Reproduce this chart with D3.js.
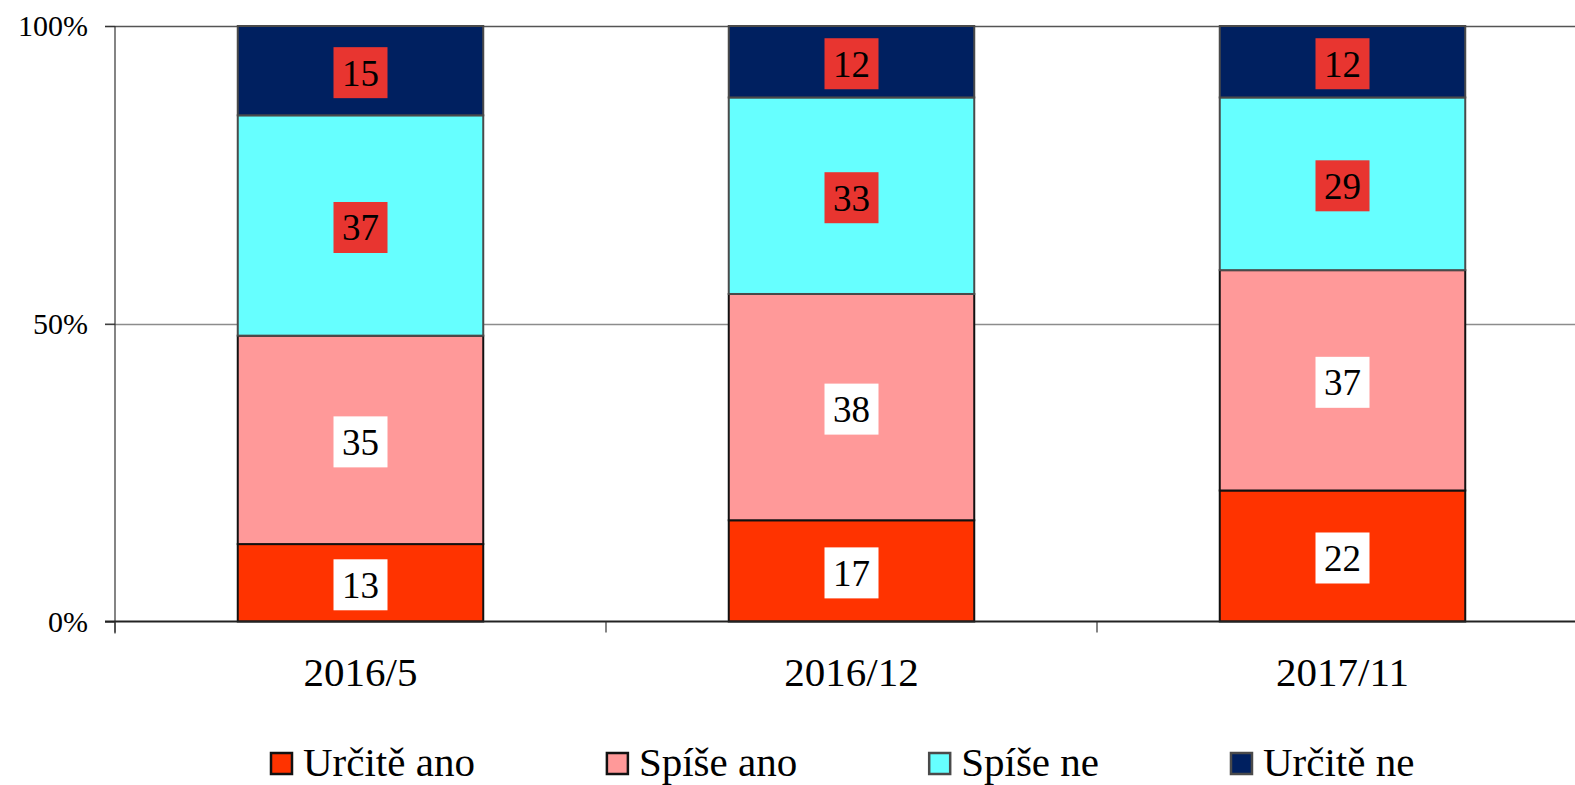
<!DOCTYPE html>
<html>
<head>
<meta charset="utf-8">
<script src="https://cdn.jsdelivr.net/npm/d3@7"></script>
<style>
  body { margin: 0; background: #fff; }
  svg { display: block; }
  svg text { font-family: "Liberation Serif", "Times New Roman", "DejaVu Serif", serif !important; }
</style>
</head>
<body>
<div id="chart"></div>
<script>
// Data
const categories = ["2016/5", "2016/12", "2017/11"];
const seriesNames = ["Určitě ano", "Spíše ano", "Spíše ne", "Určitě ne"];
const urciteAno = [13, 17, 22];
const spiseAno = [35, 38, 37];
const spiseNe = [37, 33, 29];
const urciteNe = [15, 12, 12];
const yTicks = [0, 50, 100];

const seriesValues = [urciteAno, spiseAno, spiseNe, urciteNe];
const colors = ["#ff3300", "#ff9999", "#66ffff", "#002060"];
const strokes = ["#111111", "#111111", "#4a4a4a", "#4a4a4a"];
const labelBg = ["#ffffff", "#ffffff", "#e83530", "#e83530"];
const serif = "Liberation Serif, Times New Roman, serif";

// Build a table the stack layout can use
const table = categories.map((c, i) => {
  let row = {cat: c};
  seriesNames.forEach((s, j) => { row[s] = seriesValues[j][i]; });
  return row;
});

const W = 1575, H = 785;
let margin = {top: 26, left: 115, bottom: 164};
let plotBottom = H - margin.bottom + 0.5;

let svg = d3.select("#chart").append("svg")
  .attr("width", W)
  .attr("height", H)
  .attr("font-family", serif);

// Scales
let x = d3.scaleBand()
  .domain(categories)
  .range([margin.left, margin.left + 1473])
  .paddingInner(0.5)
  .paddingOuter(0.25);
let y = d3.scaleLinear().domain([0, 100]).range([plotBottom, margin.top]);

// Gridlines
svg.append("g")
  .selectAll("line")
  .data(yTicks.filter(d => d > 0))
  .enter().append("line")
  .attr("x1", margin.left - 10)
  .attr("x2", W)
  .attr("y1", d => Math.round(y(d)) + 0.5)
  .attr("y2", d => Math.round(y(d)) + 0.5)
  .attr("stroke", d => d === 100 ? "#555" : "#8c8c8c")
  .attr("stroke-width", 1.5);

// Y axis
let yAxis = svg.append("g")
  .attr("transform", "translate(" + margin.left + ",0)")
  .call(d3.axisLeft(y).tickValues(yTicks).tickFormat(d => d + "%").tickSize(10).tickPadding(17))
  .attr("font-family", serif);
yAxis.select(".domain").remove();
yAxis.selectAll("line").attr("stroke", "#333").attr("stroke-width", 1.2);
yAxis.selectAll("text")
  .attr("font-size", 30)
  .attr("fill", "#000");
yAxis.append("line")
  .attr("x1", 0).attr("x2", 0)
  .attr("y1", margin.top).attr("y2", plotBottom + 12)
  .attr("stroke", "#333").attr("stroke-width", 1.2);

// Stacked bars
let stacked = d3.stack().keys(seriesNames)(table);

let layers = svg.append("g")
  .selectAll("g")
  .data(stacked)
  .enter().append("g");

layers.selectAll("rect")
  .data(d => d.map(p => ({p: p, k: d.key, i: d.index})))
  .enter().append("rect")
  .attr("x", d => x(d.p.data.cat))
  .attr("width", x.bandwidth())
  .attr("y", d => y(d.p[1]))
  .attr("height", d => y(d.p[0]) - y(d.p[1]))
  .attr("fill", d => colors[d.i])
  .attr("stroke", d => strokes[d.i])
  .attr("stroke-width", 2);

// Category baseline (drawn over the bars) and bottom ticks
let xAxis = svg.append("g")
  .attr("transform", "translate(0," + plotBottom + ")");
xAxis.append("line")
  .attr("x1", margin.left - 10).attr("x2", W)
  .attr("stroke", "#222").attr("stroke-width", 2);
xAxis.selectAll(".tk")
  .data(categories)
  .enter().append("line")
  .attr("class", "tk")
  .attr("x1", d => x(d) - x.step() * 0.25)
  .attr("x2", d => x(d) - x.step() * 0.25)
  .attr("y1", 0).attr("y2", 11)
  .attr("stroke", "#333").attr("stroke-width", 1.2);
xAxis.selectAll(".cl")
  .data(categories)
  .enter().append("text")
  .attr("class", "cl")
  .attr("x", d => x(d) + x.bandwidth() / 2)
  .attr("y", 64)
  .attr("text-anchor", "middle")
  .attr("font-size", 41)
  .text(d => d);

// Data labels with background boxes
let labels = layers.selectAll(".lbl")
  .data(d => d.map(p => ({p: p, i: d.index})))
  .enter().append("g")
  .attr("class", "lbl")
  .attr("transform", d => "translate(" + (x(d.p.data.cat) + x.bandwidth() / 2) + "," +
    ((y(d.p[0]) + y(d.p[1])) / 2 + 2) + ")");
labels.append("rect")
  .attr("x", -27).attr("y", -25.5)
  .attr("width", 54).attr("height", 51)
  .attr("fill", d => labelBg[d.i]);
labels.append("text")
  .attr("text-anchor", "middle")
  .attr("y", 13)
  .attr("font-size", 37)
  .text(d => d.p[1] - d.p[0]);

// Legend
let legend = svg.append("g").attr("transform", "translate(0,764)");
let lx = 271;
seriesNames.forEach((s, i) => {
  let item = legend.append("g").attr("transform", "translate(" + lx + ",0)");
  item.append("rect")
    .attr("x", 0).attr("y", -11)
    .attr("width", 21).attr("height", 21)
    .attr("fill", colors[i])
    .attr("stroke", strokes[i])
    .attr("stroke-width", 2.5);
  let t = item.append("text")
    .attr("x", 32).attr("y", 12)
    .attr("font-size", 41)
    .text(s);
  lx += 32 + t.node().getComputedTextLength() + 132;
});
</script>
</body>
</html>
